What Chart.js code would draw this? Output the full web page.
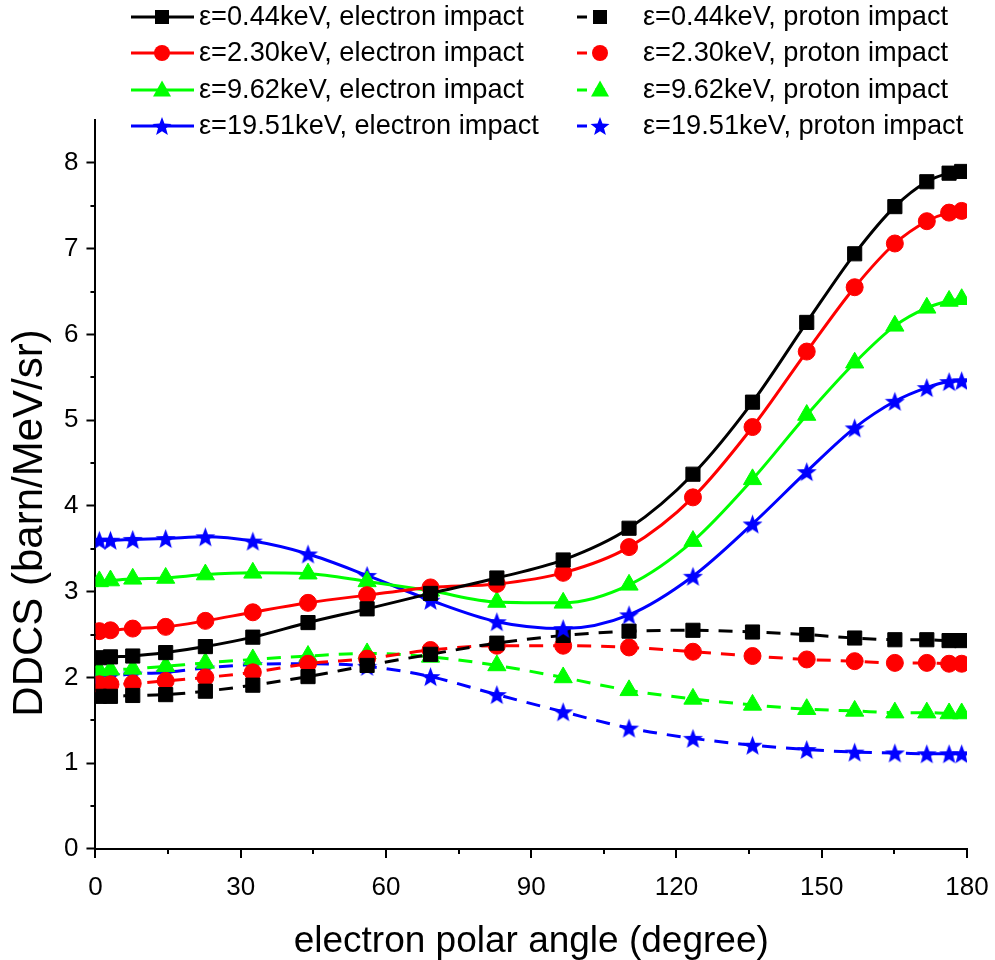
<!DOCTYPE html>
<html>
<head>
<meta charset="utf-8">
<script src="https://cdn.jsdelivr.net/npm/chart.js@4.4.1/dist/chart.umd.min.js"></script>
<style>
  html, body { margin: 0; padding: 0; background: #fff; }
  #wrap { width: 995px; height: 960px; }
</style>
</head>
<body>
<div id="wrap"><canvas id="ddcs" width="995" height="960"></canvas></div>
<script>
// electron polar angles (degree), same for every curve
const angles = [0.8, 3.1, 7.7, 14.5, 22.7, 32.5, 43.9, 56.1, 69.2, 82.9, 96.6, 110.2, 123.4, 135.7, 146.9, 156.8, 165.1, 171.7, 176.3, 178.9];

// DDCS (barn/MeV/sr), electron impact
const e044 = [2.23, 2.24, 2.25, 2.29, 2.36, 2.47, 2.64, 2.80, 2.98, 3.16, 3.37, 3.74, 4.37, 5.21, 6.14, 6.94, 7.49, 7.78, 7.88, 7.90];
const e230 = [2.54, 2.55, 2.57, 2.59, 2.66, 2.76, 2.87, 2.96, 3.05, 3.09, 3.22, 3.52, 4.10, 4.92, 5.80, 6.55, 7.06, 7.32, 7.42, 7.44];
const e962 = [3.12, 3.13, 3.15, 3.16, 3.20, 3.22, 3.21, 3.12, 3.01, 2.88, 2.87, 3.08, 3.59, 4.31, 5.06, 5.67, 6.10, 6.31, 6.39, 6.41];
const e1951 = [3.60, 3.60, 3.61, 3.62, 3.64, 3.59, 3.44, 3.19, 2.90, 2.65, 2.57, 2.73, 3.18, 3.79, 4.40, 4.91, 5.22, 5.38, 5.45, 5.46];

// DDCS (barn/MeV/sr), proton impact
const p044 = [1.78, 1.78, 1.79, 1.80, 1.84, 1.91, 2.01, 2.14, 2.27, 2.40, 2.49, 2.54, 2.55, 2.53, 2.50, 2.46, 2.44, 2.44, 2.43, 2.43];
const p230 = [1.92, 1.92, 1.93, 1.96, 2.00, 2.06, 2.16, 2.22, 2.32, 2.37, 2.37, 2.35, 2.30, 2.25, 2.21, 2.19, 2.17, 2.17, 2.16, 2.16];
const p962 = [2.08, 2.09, 2.10, 2.13, 2.17, 2.21, 2.25, 2.28, 2.24, 2.14, 2.00, 1.85, 1.75, 1.68, 1.63, 1.61, 1.59, 1.59, 1.58, 1.58];
const p1951 = [2.02, 2.02, 2.04, 2.06, 2.11, 2.15, 2.16, 2.13, 2.01, 1.80, 1.60, 1.41, 1.29, 1.21, 1.16, 1.13, 1.12, 1.11, 1.11, 1.11];

const energies = ["0.44", "2.30", "9.62", "19.51"];
const xTicks = [0, 30, 60, 90, 120, 150, 180];
const yTicks = [0, 1, 2, 3, 4, 5, 6, 7, 8];
const yTitle = "DDCS (barn/MeV/sr)";

const FONT = "'Liberation Sans', Arial, sans-serif";
const colors = ["#000000", "#ff0000", "#00ff00", "#0000ff"];
const DASH = [14, 10];

// filled five point star, Chart.js only has an asterisk "star"
function makeStar(color, size) {
  const c = document.createElement("canvas");
  c.width = size; c.height = size;
  const g = c.getContext("2d");
  drawStar(g, size / 2, size / 2 + 1, size / 2, color);
  return c;
}
function drawStar(g, cx, cy, R, color) {
  const r = R * 0.42;
  g.beginPath();
  for (let i = 0; i < 10; i++) {
    const a = -Math.PI / 2 + i * Math.PI / 5;
    const rr = i % 2 ? r : R;
    g.lineTo(cx + rr * Math.cos(a), cy + rr * Math.sin(a));
  }
  g.closePath();
  g.fillStyle = color;
  g.fill();
}

const starImg = makeStar("#0000ff", 21);
const styles = ["rect", "circle", "triangle", starImg];
const radii = [10, 8.5, 10.5, 10];

function series(vals, i, dashed) {
  return {
    label: "ε=" + energies[i] + "keV, " + (dashed ? "proton" : "electron") + " impact",
    data: angles.map((a, k) => ({ x: a, y: vals[k] })),
    showLine: true,
    borderColor: colors[i],
    backgroundColor: colors[i],
    borderWidth: 3,
    borderDash: dashed ? DASH : [],
    cubicInterpolationMode: "monotone",
    pointStyle: styles[i],
    pointRadius: radii[i],
    pointBorderWidth: 1,
    pointBorderColor: colors[i],
    pointBackgroundColor: colors[i]
  };
}

const datasets = [
  series(e044, 0, false), series(e230, 1, false), series(e962, 2, false), series(e1951, 3, false),
  series(p044, 0, true), series(p230, 1, true), series(p962, 2, true), series(p1951, 3, true)
];

function legendMarker(ctx, i, x, y) {
  const c = colors[i];
  ctx.fillStyle = c;
  ctx.beginPath();
  if (i === 0) {
    ctx.rect(x - 7, y - 7, 14, 14);
  } else if (i === 1) {
    ctx.arc(x, y, 8, 0, Math.PI * 2);
  } else if (i === 2) {
    ctx.moveTo(x, y - 9.5); ctx.lineTo(x + 9, y + 6.5); ctx.lineTo(x - 9, y + 6.5); ctx.closePath();
  } else {
    drawStar(ctx, x, y + 1, 10, c);
    return;
  }
  ctx.fill();
}

const extras = {
  id: "extras",
  afterDraw(chart) {
    const ctx = chart.ctx;
    const xs = chart.scales.x, ys = chart.scales.y;
    ctx.save();
    // x ticks (major drawn here so the label gap does not widen the right margin)
    ctx.strokeStyle = "#000";
    ctx.lineWidth = 2;
    ctx.beginPath();
    xTicks.forEach(v => {
      const px = Math.round(xs.getPixelForValue(v));
      ctx.moveTo(px, ys.bottom); ctx.lineTo(px, ys.bottom + 9);
    });
    for (let v = 15; v < 180; v += 30) {
      const px = Math.round(xs.getPixelForValue(v));
      ctx.moveTo(px, ys.bottom); ctx.lineTo(px, ys.bottom + 5);
    }
    for (let v = 0.5; v < 8.5; v += 1) {
      const py = Math.round(ys.getPixelForValue(v));
      ctx.moveTo(xs.left, py); ctx.lineTo(xs.left - 5, py);
    }
    ctx.stroke();

    // y title, sits a bit below the axis middle in the original
    ctx.font = "42px " + FONT;
    ctx.fillStyle = "#000";
    ctx.textAlign = "center";
    ctx.textBaseline = "middle";
    ctx.translate(30, 523);
    ctx.rotate(-Math.PI / 2);
    ctx.fillText(yTitle, 0, 0);
    ctx.setTransform(1, 0, 0, 1, 0, 0);

    // legend, two columns
    const rowsY = [17, 53, 90, 126];
    ctx.font = "27.2px " + FONT;
    ctx.textAlign = "left";
    chart.data.datasets.forEach((ds, k) => {
      const i = k % 4, proton = k >= 4;
      const y = rowsY[i];
      const x0 = proton ? 577 : 131, x1 = proton ? 613 : 194;
      const mx = proton ? 600 : 162;
      ctx.strokeStyle = colors[i];
      ctx.lineWidth = 3;
      ctx.setLineDash(proton ? [10, 8] : []);
      ctx.beginPath(); ctx.moveTo(x0, y); ctx.lineTo(x1, y); ctx.stroke();
      ctx.setLineDash([]);
      legendMarker(ctx, i, mx, y);
      ctx.fillStyle = "#000";
      ctx.fillText(ds.label, proton ? 643 : 199, y + 1);
    });
    ctx.restore();
  }
};

new Chart(document.getElementById("ddcs"), {
  type: "scatter",
  data: { datasets: datasets },
  plugins: [extras],
  options: {
    responsive: false,
    animation: false,
    layout: { padding: { top: 120, right: 28, left: 56, bottom: 0 } },
    plugins: { legend: { display: false }, tooltip: { enabled: false } },
    scales: {
      x: {
        type: "linear", min: 0, max: 180,
        afterBuildTicks: s => { s.ticks = xTicks.map(v => ({ value: v })); },
        ticks: { color: "#000", font: { size: 26, family: FONT, lineHeight: 1 }, padding: 0, maxRotation: 0 },
        grid: { drawOnChartArea: false, tickLength: 26, tickWidth: 2, tickColor: "rgba(0,0,0,0)", color: "#000" },
        border: { display: true, color: "#000", width: 2 },
        title: { display: true, text: "electron polar angle (degree)", color: "#000", font: { size: 37, family: FONT, lineHeight: 0.757 }, padding: { top: 27 } }
      },
      y: {
        type: "linear", min: 0, max: 8.5,
        afterBuildTicks: s => { s.ticks = yTicks.map(v => ({ value: v })); },
        ticks: { color: "#000", font: { size: 26, family: FONT }, padding: 8 },
        grid: { drawOnChartArea: false, tickLength: 9, tickWidth: 2, color: "#000" },
        border: { display: true, color: "#000", width: 2 },
        title: { display: false }
      }
    }
  }
});
</script>
</body>
</html>
